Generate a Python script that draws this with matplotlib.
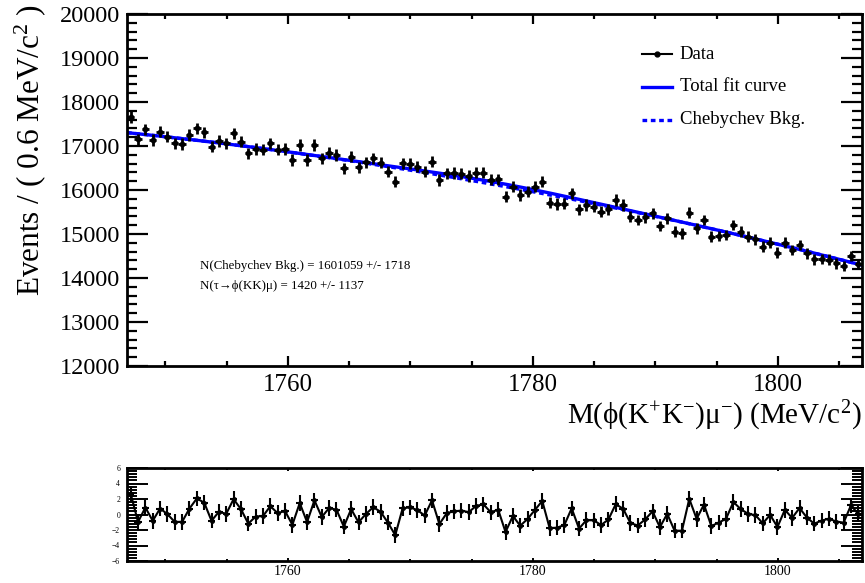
import numpy as np
import matplotlib
matplotlib.use("Agg")
import matplotlib.pyplot as plt
from matplotlib.ticker import MultipleLocator
from numpy.polynomial import chebyshev as cheb

plt.rcParams['font.family'] = ['Liberation Serif', 'DejaVu Serif']
plt.rcParams['mathtext.fontset'] = 'custom'
plt.rcParams['mathtext.rm'] = 'Liberation Serif'
plt.rcParams['mathtext.it'] = 'Liberation Serif:italic'
plt.rcParams['mathtext.default'] = 'regular'

# binning of the mass spectrum
m_lo, m_hi = 1746.86, 1806.86
bin_width = 0.6

# events per bin
counts = [17652, 17152, 17379, 17136, 17326, 17212, 17061, 17045, 17250, 17402,
          17311, 16985, 17114, 17061, 17288, 17098, 16833, 16930, 16915, 17061,
          16920, 16935, 16682, 17023, 16682, 17023, 16720, 16848, 16795, 16492,
          16758, 16515, 16630, 16720, 16620, 16416, 16189, 16606, 16600, 16530,
          16416, 16644, 16227, 16379, 16385, 16370, 16318, 16394, 16390, 16230,
          16243, 15848, 16076, 15886, 15962, 16076, 16189, 15712, 15682, 15690,
          15924, 15561, 15659, 15621, 15508, 15561, 15773, 15659, 15393, 15318,
          15379, 15470, 15182, 15356, 15053, 15015, 15485, 15129, 15318, 14939,
          14955, 14977, 15205, 15053, 14939, 14879, 14712, 14803, 14576, 14803,
          14636, 14750, 14561, 14424, 14430, 14418, 14333, 14273, 14500, 14318]

# fit result: chebychev background (events/bin) + gaussian signal
bkg_coef = [15960, -1506, -162]
n_sig = 1420
sig_mean = 1776.86
sig_sigma = 6.0

x_ticks = [1760, 1780, 1800]
y_ticks = [12000, 13000, 14000, 15000, 16000, 17000, 18000, 19000, 20000]
pull_ticks = [-6, -4, -2, 0, 2, 4, 6]

legend_labels = ["Data", "Total fit curve", "Chebychev Bkg."]
txt_bkg = "N(Chebychev Bkg.) = 1601059 +/- 1718"
txt_sig = "N(τ→ϕ(KK)μ) = 1420 +/- 1137"

counts = np.array(counts, dtype=float)
edges = m_lo + bin_width * np.arange(len(counts) + 1)
centers = 0.5 * (edges[1:] + edges[:-1])
errs = np.sqrt(counts)


def bkg_model(m):
    u = (m - 0.5 * (m_lo + m_hi)) / (0.5 * (m_hi - m_lo))
    return cheb.chebval(u, bkg_coef)


def total_model(m):
    g = np.exp(-0.5 * ((m - sig_mean) / sig_sigma) ** 2) / (sig_sigma * np.sqrt(2 * np.pi))
    return bkg_model(m) + n_sig * bin_width * g


W, H = 865, 583
fig = plt.figure(figsize=(W / 100, H / 100), dpi=100)
ax = fig.add_axes([127 / W, 1 - 366 / H, 735 / W, 352 / H])

xs = np.linspace(m_lo, m_hi, 500)
ax.plot(xs, total_model(xs), color='#0000ff', lw=2.4, zorder=2)
ax.plot(xs, bkg_model(xs), color='#0000ff', lw=2.4, ls=(0, (1.4, 1.1)), zorder=2)
ax.errorbar(centers, counts, yerr=errs, xerr=bin_width / 2, fmt='o', ms=3.2,
            color='k', elinewidth=2.0, capsize=0, zorder=3)

ax.set_xlim(m_lo, m_hi)
ax.set_ylim(12000, 20000)
ax.set_xticks(x_ticks)
ax.set_yticks(y_ticks)
ax.set_yticklabels([str(v) for v in y_ticks])
ax.xaxis.set_minor_locator(MultipleLocator(5))
ax.yaxis.set_minor_locator(MultipleLocator(200))
ax.tick_params(which='both', direction='in', top=True, right=True, width=1.6)
ax.tick_params(axis='y', which='major', length=15, labelsize=17.5, pad=5)
ax.tick_params(axis='y', which='minor', length=7.5)
ax.tick_params(axis='x', which='major', length=7, labelsize=18, pad=6)
ax.tick_params(axis='x', which='minor', length=3.5)
for s in ax.spines.values():
    s.set_linewidth(2)

# legend drawn by hand, ROOT style
leg_y = [0.886, 0.793, 0.699]
lx0, lx1, tx = 0.701, 0.742, 0.752
ax.plot([lx0, lx1], [leg_y[0]] * 2, color='k', lw=1.5, transform=ax.transAxes)
ax.plot([0.5 * (lx0 + lx1)], [leg_y[0]], 'o', color='k', ms=3.5, transform=ax.transAxes)
ax.plot([lx0, lx1], [leg_y[1]] * 2, color='#0000ff', lw=2.4, transform=ax.transAxes)
ax.plot([lx0, lx1], [leg_y[2]] * 2, color='#0000ff', lw=2.4, ls=(0, (1.4, 1.1)),
        transform=ax.transAxes)
for yy, lab in zip(leg_y, legend_labels):
    ax.text(tx, yy, lab, transform=ax.transAxes, ha='left', va='center', fontsize=13.5)

ax.text(0.0993, 0.284, txt_bkg, transform=ax.transAxes, ha='left', va='center', fontsize=9.3)
ax.text(0.0993, 0.227, txt_sig, transform=ax.transAxes, ha='left', va='center', fontsize=9.3)

fig.text(30 / W, 1 - 4 / H, 'Events / ( 0.6 MeV/c$^{2}$ )', rotation=90,
         ha='center', va='top', fontsize=22.5)
fig.text(862 / W, 1 - 416 / H, 'M(ϕ(K$^{+}$K$^{-}$)μ$^{-}$) (MeV/c$^{2}$)',
         ha='right', va='center', fontsize=21)

# pull panel
pulls = (counts - total_model(centers)) / errs
ax2 = fig.add_axes([127 / W, 1 - 561 / H, 735 / W, 93 / H])
ax2.errorbar(centers, pulls, yerr=1.0, xerr=bin_width / 2, fmt='-o', ms=2.5,
             color='k', lw=1.5, elinewidth=1.5, capsize=0)
ax2.set_xlim(m_lo, m_hi)
ax2.set_ylim(-6, 6)
ax2.set_xticks(x_ticks)
ax2.set_yticks(pull_ticks)
ax2.xaxis.set_minor_locator(MultipleLocator(5))
ax2.yaxis.set_minor_locator(MultipleLocator(0.4))
ax2.tick_params(which='both', direction='in', top=True, right=True, width=1.4)
ax2.tick_params(axis='y', which='major', length=15, labelsize=5.5, pad=5)
ax2.tick_params(axis='y', which='minor', length=7.5)
ax2.tick_params(axis='x', which='major', length=2.5, labelsize=10, pad=3)
ax2.tick_params(axis='x', which='minor', length=1.5)
for s in ax2.spines.values():
    s.set_linewidth(2)

fig.savefig('out.png', dpi=100)
